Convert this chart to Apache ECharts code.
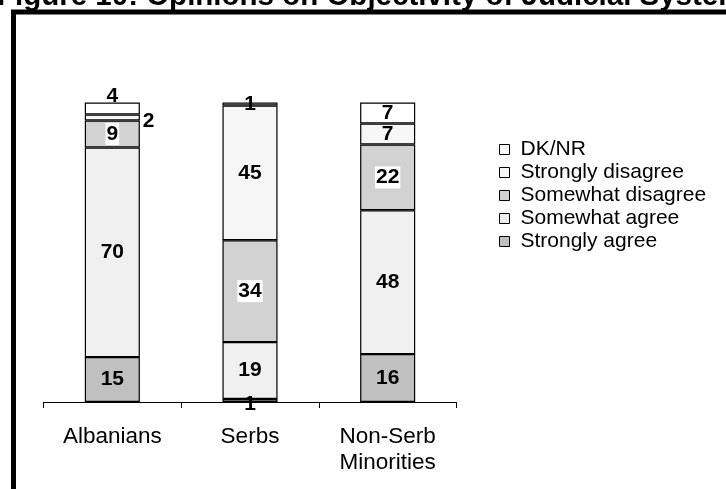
<!DOCTYPE html>
<html>
<head>
<meta charset="utf-8">
<script src="https://cdn.jsdelivr.net/npm/echarts@6/dist/echarts.min.js"></script>
<style>
html,body{margin:0;padding:0;background:#fff;}
#chart{width:726px;height:489px;}
</style>
</head>
<body>
<div id="chart"></div>
<script>
const titleText = 'Figure 10: Opinions on Objectivity of Judicial System';
const categories = ['Albanians', 'Serbs', 'Non-Serb\nMinorities'];
const stronglyAgree = [15, 1, 16];
const somewhatAgree = [70, 19, 48];
const somewhatDisagree = [9, 34, 22];
const stronglyDisagree = [2, 45, 7];
const dkNr = [4, 1, 7];
const legendOrder = ['DK/NR', 'Strongly disagree', 'Somewhat disagree', 'Somewhat agree', 'Strongly agree'];

const FONT = 'Arial, "Liberation Sans", sans-serif';
const baseLabel = {
  show: true, position: 'inside', color: '#000', fontFamily: FONT,
  fontWeight: 'bold', fontSize: 21
};
function mk(name, values, color, labelExtra, overrides) {
  return {
    name: name, type: 'bar', stack: 'total', barWidth: '40%',
    itemStyle: { color: color, borderColor: '#000', borderWidth: 1.2 },
    label: Object.assign({}, baseLabel, labelExtra || {}),
    data: values.map((v, i) => {
      const o = { value: v };
      if (overrides && overrides[i]) o.label = overrides[i];
      return o;
    })
  };
}
const chart = echarts.init(document.getElementById('chart'), null, { renderer: 'canvas' });
chart.setOption({
  animation: false,
  backgroundColor: '#fff',
  grid: { left: 43.5, right: 269.5, top: 102.5, bottom: 87 },
  xAxis: {
    type: 'category', data: categories,
    axisLine: { lineStyle: { color: '#000', width: 1 } },
    axisTick: { show: true, length: 6, lineStyle: { color: '#000' } },
    axisLabel: { color: '#000', fontFamily: FONT, fontSize: 22.5, margin: 22, lineHeight: 26 }
  },
  yAxis: { type: 'value', min: 0, max: 100, show: false, splitLine: { show: false } },
  legend: {
    orient: 'vertical', left: 494, top: 134,
    itemWidth: 10, itemHeight: 10, itemGap: 2,
    icon: 'rect',
    data: legendOrder,
    textStyle: { color: '#000', fontFamily: FONT, fontSize: 21, lineHeight: 21, padding: [0, 0, 0, 6] },
    itemStyle: { borderColor: '#000', borderWidth: 1 }
  },
  graphic: [
    { type: 'rect', shape: { x: 13.5, y: 12, width: 900, height: 700 },
      style: { fill: 'none', stroke: '#000', lineWidth: 5 }, z: 100 },
    { type: 'text', left: -3, top: -18, z: 101,
      style: { text: titleText, font: 'bold 29.5px ' + FONT, fill: '#000' } }
  ],
  series: [
    mk('Strongly agree', stronglyAgree, '#c0c0c0', {}, [null, { position: 'inside', offset: [0, 4] }, null]),
    mk('Somewhat agree', somewhatAgree, '#f0f0f0', {}),
    mk('Somewhat disagree', somewhatDisagree, '#d2d2d2', { backgroundColor: '#fff', padding: [1, 1, 0, 1] }),
    mk('Strongly disagree', stronglyDisagree, '#f6f6f6', {}, [{ position: 'right', distance: 3, offset: [0, 4] }, null, null]),
    mk('DK/NR', dkNr, '#ffffff', {}, [{ position: 'top', distance: -4.5 }, { position: 'inside' }, null])
  ]
});
</script>
</body>
</html>
